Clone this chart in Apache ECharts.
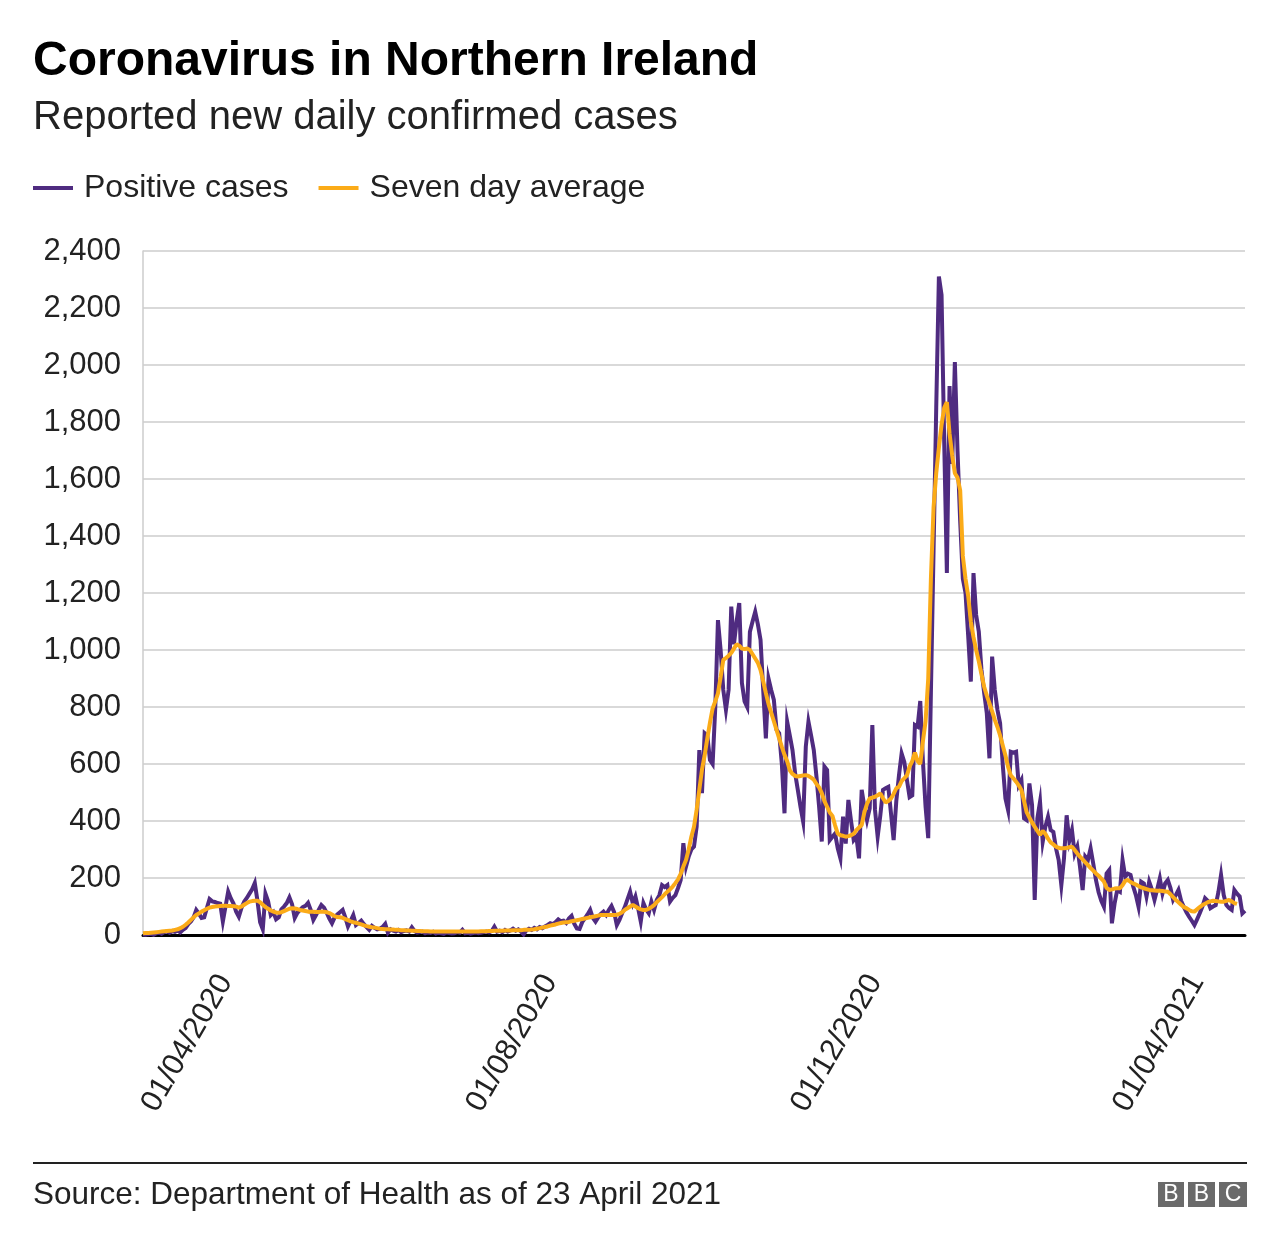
<!DOCTYPE html>
<html>
<head>
<meta charset="utf-8">
<script src="https://cdn.jsdelivr.net/npm/echarts@6/dist/echarts.min.js"></script>
<style>
  html, body { margin: 0; padding: 0; background: #ffffff; }
  #chart { width: 1280px; height: 1250px; }
</style>
</head>
<body>
<div id="chart"></div>
<script>
// ---- Data ----
const START_DATE = [2020, 3, 1]; // 1 March 2020, one value per day
const tickLabels = ['01/04/2020', '01/08/2020', '01/12/2020', '01/04/2021'];
const yTicks = [0, 200, 400, 600, 800, 1000, 1200, 1400, 1600, 1800, 2000, 2200, 2400];

const positiveCases = [
  2, 1, 3, 4, 1, 6, 8, 4, 10, 12,
  8, 14, 11, 16, 9, 18, 24, 38, 47, 62,
  88, 75, 60, 62, 95, 126, 118, 116, 112, 110,
  47, 100, 152, 128, 110, 82, 64, 95, 117, 130,
  145, 160, 182, 120, 45, 20, 145, 118, 70, 80,
  55, 62, 90, 100, 112, 132, 108, 60, 78, 88,
  98, 102, 113, 88, 53, 70, 88, 105, 96, 78,
  58, 41, 62, 72, 80, 88, 62, 30, 50, 70,
  35, 42, 50, 38, 28, 18, 32, 25, 20, 22,
  28, 39, 8, 20, 15, 12, 18, 10, 14, 16,
  12, 27, 14, 8, 10, 12, 6, 9, 7, 11,
  5, 8, 6, 4, 9, 7, 5, 6, 10, 8,
  18, 6, 8, 5, 7, 9, 6, 8, 10, 12,
  9, 14, 29, 12, 15, 10, 18, 12, 16, 22,
  15, 20, 12, 2, 16, 22, 18, 25, 20, 28,
  24, 30, 35, 41, 38, 45, 55, 48, 50, 42,
  58, 67, 40, 23, 21, 45, 58, 72, 88, 60,
  47, 62, 74, 82, 70, 88, 102, 80, 35, 53,
  76, 98, 125, 152, 111, 135, 94, 47, 112, 90,
  76, 117, 88, 123, 140, 175, 168, 175, 117, 130,
  140, 165, 193, 322, 240, 275, 300, 310, 380, 649,
  498, 708, 700, 614, 600, 800, 1105, 1000, 860, 790,
  860, 1152, 1020, 1100, 1165, 884, 820, 800, 1064, 1100,
  1134, 1090, 1035, 860, 690, 900, 860, 825, 720, 708,
  600, 427, 749, 700, 649, 567, 509, 450, 398, 661,
  749, 700, 649, 556, 450, 328, 591, 579, 333, 345,
  356, 304, 269, 415, 321, 474, 400, 333, 345, 269,
  509, 450, 403, 444, 737, 439, 345, 420, 509, 515,
  520, 427, 333, 470, 560, 637, 607, 544, 484, 490,
  737, 731, 821, 610, 450, 340, 850, 1350, 1850, 2310,
  2246, 1728, 1270, 1926, 1653, 2010, 1698, 1452, 1250, 1200,
  1050, 889, 1270, 1123, 1064, 930, 850, 778, 620, 977,
  860, 790, 743, 596, 479, 438, 643, 640, 643, 526,
  544, 409, 403, 532, 456, 123, 409, 468, 327, 380,
  415, 368, 362, 304, 263, 175, 269, 420, 330, 368,
  285, 310, 240, 158, 275, 263, 304, 250, 193, 150,
  120, 99, 216, 228, 41, 110, 158, 152, 263, 205,
  215, 211, 170, 140, 99, 187, 181, 135, 187, 160,
  123, 160, 199, 146, 181, 193, 165, 123, 140, 158,
  120, 99, 80, 64, 50, 35, 55, 76, 100, 129,
  120, 94, 100, 105, 150, 211, 140, 105, 95, 88,
  158, 145, 135, 76, 85
];

const sevenDayAverage = [
  6, 7, 7, 8, 9, 10, 11, 12, 13, 14,
  15, 16, 18, 20, 24, 29, 36, 44, 53, 62,
  70, 76, 82, 87, 92, 96, 98, 100, 101, 102,
  103, 103, 102, 102, 101, 100, 96, 100, 106, 112,
  117, 119, 120, 120, 115, 106, 98, 92, 86, 82,
  79, 78, 80, 84, 88, 92, 94, 93, 91, 88,
  86, 84, 82, 82, 82, 81, 81, 82, 82, 80,
  77, 72, 66, 63, 62, 60, 56, 52, 48, 45,
  43, 40, 37, 34, 31, 29, 27, 26, 24, 22,
  21, 20, 20, 19, 19, 18, 18, 17, 17, 16,
  16, 15, 15, 14, 14, 13, 13, 13, 12, 12,
  12, 12, 12, 12, 12, 12, 12, 12, 12, 12,
  12, 12, 12, 12, 12, 12, 12, 13, 13, 13,
  14, 14, 15, 15, 15, 15, 16, 16, 16, 17,
  17, 17, 17, 18, 18, 18, 19, 20, 22, 24,
  26, 28, 30, 33, 35, 37, 40, 42, 44, 45,
  46, 48, 50, 52, 54, 56, 58, 60, 62, 64,
  66, 68, 70, 70, 70, 70, 70, 70, 71, 74,
  80, 88, 94, 100, 105, 100, 94, 90, 88, 88,
  92, 98, 105, 115, 124, 133, 143, 152, 160, 170,
  182, 195, 215, 240, 263, 300, 345, 380, 440, 510,
  580, 630, 690, 745, 795, 820, 848, 905, 965, 972,
  980, 990, 1005, 1020, 1015, 1005, 1003, 1005, 1000, 985,
  970, 955, 930, 890, 849, 810, 780, 750, 720, 690,
  660, 632, 610, 578, 565, 558, 556, 558, 560, 561,
  558, 552, 545, 530, 518, 498, 470, 450, 430, 418,
  385, 356, 350, 348, 345, 347, 350, 355, 368, 377,
  386, 430, 460, 479, 482, 485, 490, 497, 480, 465,
  470, 479, 495, 515, 520, 540, 550, 560, 591, 610,
  640, 610, 600, 680, 750, 900, 1250, 1500, 1620, 1710,
  1790, 1850, 1870, 1760, 1683, 1620, 1605, 1560, 1330, 1250,
  1190, 1100, 1045, 1000, 960, 915, 871, 840, 813, 785,
  755, 730, 700, 665, 630, 590, 560, 550, 538, 525,
  509, 470, 430, 412, 395, 380, 365, 351, 365, 355,
  338, 325, 318, 310, 306, 304, 304, 305, 308, 310,
  298, 286, 275, 265, 255, 245, 235, 226, 216, 208,
  198, 188, 165, 158, 160, 163, 164, 164, 175, 190,
  193, 186, 181, 177, 172, 167, 164, 161, 158, 157,
  156, 155, 155, 154, 153, 152, 143, 133, 123, 115,
  106, 98, 94, 88, 83, 82, 90, 98, 105, 110,
  115, 118, 120, 119, 118, 117, 117, 120, 123, 118,
  112, 109, null, null, null
];

// ---- Build categories (one per day) ----
function pad(n) { return n < 10 ? '0' + n : '' + n; }
const dates = positiveCases.map(function (_, i) {
  const d = new Date(Date.UTC(START_DATE[0], START_DATE[1] - 1, START_DATE[2] + i));
  return pad(d.getUTCDate()) + '/' + pad(d.getUTCMonth() + 1) + '/' + d.getUTCFullYear();
});

const FONT = '"Liberation Sans", Arial, Helvetica, sans-serif';
const PURPLE = '#4f2b80';
const ORANGE = '#fbab18';

const chart = echarts.init(document.getElementById('chart'), null, { renderer: 'canvas' });

chart.setOption({
  backgroundColor: '#ffffff',
  animation: false,
  title: [
    {
      text: 'Coronavirus in Northern Ireland',
      left: 33, top: 38, padding: 0,
      textStyle: { fontFamily: FONT, fontSize: 48, fontWeight: 'bold', color: '#000000' }
    },
    {
      text: 'Reported new daily confirmed cases',
      left: 33, top: 98, padding: 0,
      textStyle: { fontFamily: FONT, fontSize: 40, fontWeight: 'normal', color: '#222222' }
    },
    {
      text: 'Source: Department of Health as of 23 April 2021',
      left: 33, top: 1179, padding: 0,
      textStyle: { fontFamily: FONT, fontSize: 31.5, fontWeight: 'normal', color: '#222222' }
    }
  ],
  legend: {
    left: 33, top: 172, padding: 0,
    icon: 'rect',
    itemWidth: 40, itemHeight: 4, itemGap: 30,
    textStyle: { fontFamily: FONT, fontSize: 32, color: '#222222', padding: [0, 0, 0, 6] },
    data: ['Positive cases', 'Seven day average']
  },
  grid: { left: 143, right: 35, top: 251, bottom: 315, containLabel: false },
  xAxis: {
    type: 'category',
    data: dates,
    boundaryGap: false,
    axisLine: { show: true, onZero: true, lineStyle: { color: '#000000', width: 3 } },
    axisTick: { show: false },
    splitLine: { show: false },
    axisLabel: {
      interval: function (index, value) { return tickLabels.indexOf(value) >= 0; },
      rotate: 60,
      margin: 42,
      fontFamily: FONT, fontSize: 30.5, color: '#222222'
    }
  },
  yAxis: {
    type: 'value',
    min: yTicks[0], max: yTicks[yTicks.length - 1], interval: 200,
    axisLine: { show: true, lineStyle: { color: '#cccccc', width: 1.5 } },
    axisTick: { show: false },
    splitLine: { show: true, lineStyle: { color: '#cccccc', width: 1.5 } },
    axisLabel: {
      margin: 22,
      fontFamily: FONT, fontSize: 31, color: '#222222',
      formatter: function (v) { return v.toLocaleString('en-US'); }
    }
  },
  series: [
    {
      name: 'Positive cases',
      type: 'line',
      data: positiveCases,
      showSymbol: false,
      symbol: 'none',
      color: PURPLE,
      lineStyle: { color: PURPLE, width: 4, join: 'miter' },
      z: 2
    },
    {
      name: 'Seven day average',
      type: 'line',
      data: sevenDayAverage,
      showSymbol: false,
      symbol: 'none',
      color: ORANGE,
      connectNulls: false,
      lineStyle: { color: ORANGE, width: 4 },
      z: 3
    }
  ],
  graphic: [
    { type: 'rect', shape: { x: 33, y: 1162, width: 1214, height: 2 }, style: { fill: '#222222' } },
    { type: 'rect', shape: { x: 1158, y: 1182, width: 26, height: 25 }, style: { fill: '#6a6a6a' } },
    { type: 'rect', shape: { x: 1188, y: 1182, width: 27, height: 25 }, style: { fill: '#6a6a6a' } },
    { type: 'rect', shape: { x: 1219, y: 1182, width: 28, height: 25 }, style: { fill: '#6a6a6a' } },
    { type: 'text', x: 1171, y: 1195, style: { text: 'B', fill: '#ffffff', font: '23px ' + FONT, textAlign: 'center', textVerticalAlign: 'middle' } },
    { type: 'text', x: 1201.5, y: 1195, style: { text: 'B', fill: '#ffffff', font: '23px ' + FONT, textAlign: 'center', textVerticalAlign: 'middle' } },
    { type: 'text', x: 1233, y: 1195, style: { text: 'C', fill: '#ffffff', font: '23px ' + FONT, textAlign: 'center', textVerticalAlign: 'middle' } }
  ]
});
</script>
</body>
</html>
